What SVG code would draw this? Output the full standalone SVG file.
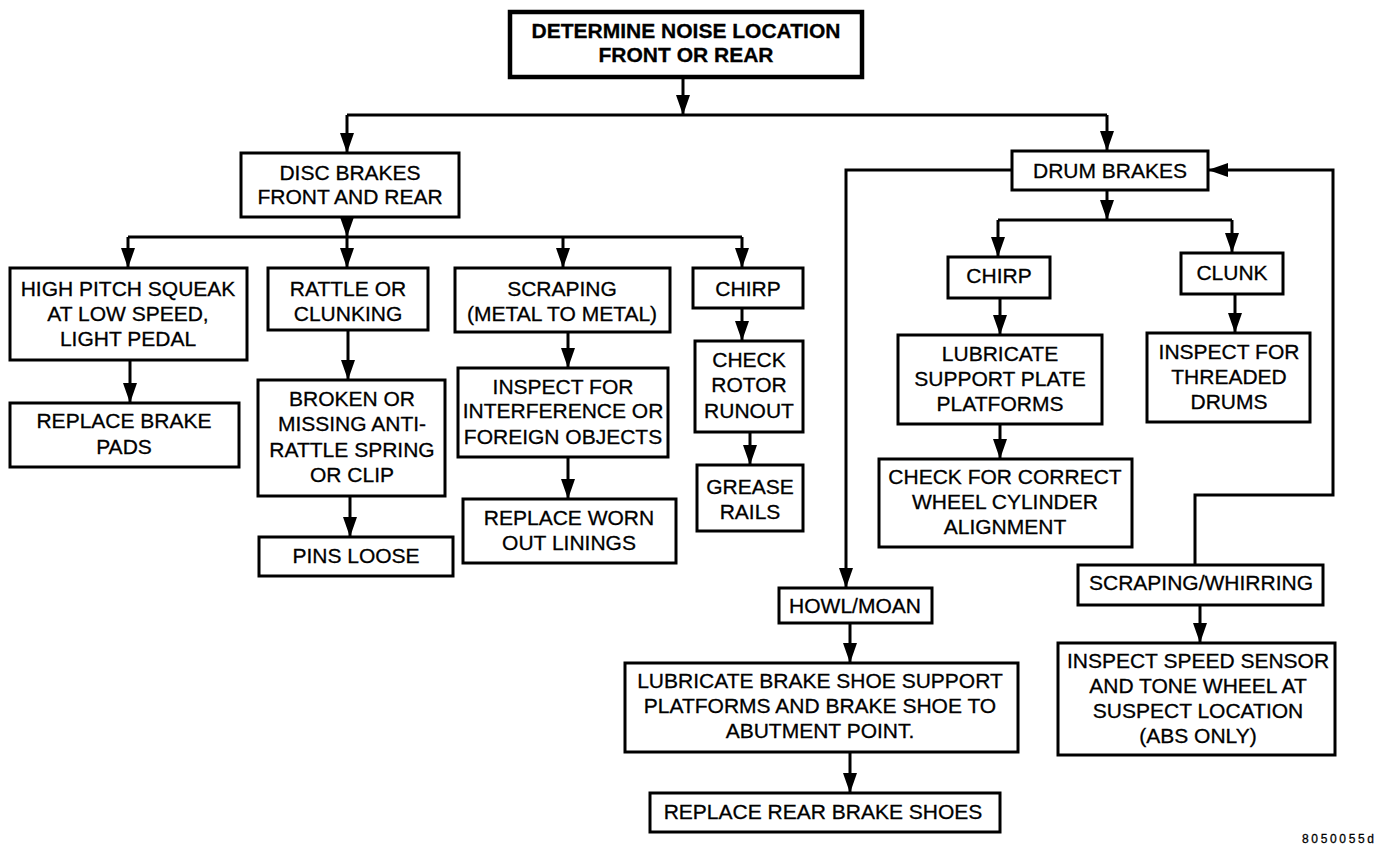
<svg xmlns="http://www.w3.org/2000/svg" width="1392" height="850" viewBox="0 0 1392 850">
<defs>
<marker id="ah" viewBox="0 0 20 14" refX="20" refY="7" markerWidth="20" markerHeight="14" markerUnits="userSpaceOnUse" orient="auto">
<path d="M0,0 L20,7 L0,14 Z" fill="#000"/>
</marker>
</defs>
<style>
.b{fill:#fff;stroke:#000;stroke-width:3}
.bt{fill:#fff;stroke:#000;stroke-width:4.5}
text{font-family:"Liberation Sans",Arial,sans-serif;font-size:21px;fill:#000;stroke:#000;stroke-width:0.3;text-anchor:middle}
.bold{font-weight:bold;font-size:21px}
.c{fill:none;stroke:#000;stroke-width:3}
.a{fill:none;stroke:#000;stroke-width:3;marker-end:url(#ah)}
.id{font-size:12px;text-anchor:start}
</style>
<rect width="1392" height="850" fill="#fff"/>
<g id="connectors">
<path class="a" d="M683,77 V115"/>
<path class="c" d="M347,115 H1107"/>
<path class="a" d="M347,115 V153"/>
<path class="a" d="M1107,115 V151"/>
<path class="a" d="M347,217 V237"/>
<path class="c" d="M128,237 H742"/>
<path class="a" d="M128,237 V268"/>
<path class="a" d="M347,237 V268"/>
<path class="a" d="M563,237 V268"/>
<path class="a" d="M742,237 V268"/>
<path class="a" d="M130,360 V403"/>
<path class="a" d="M348,330 V380"/>
<path class="a" d="M350,496 V537"/>
<path class="a" d="M568,332 V368"/>
<path class="a" d="M568,457 V499"/>
<path class="a" d="M742,308 V341"/>
<path class="a" d="M750,432 V465"/>
<path class="a" d="M1012,170 H846 V588"/>
<path class="a" d="M1107,190 V220"/>
<path class="c" d="M998,220 H1232"/>
<path class="a" d="M998,220 V257"/>
<path class="a" d="M1232,220 V253"/>
<path class="a" d="M1000,298 V335"/>
<path class="a" d="M1000,424 V459"/>
<path class="a" d="M1235,294 V333"/>
<path class="a" d="M1195,565 V495 H1333 V170 H1208"/>
<path class="a" d="M1200,605 V643"/>
<path class="a" d="M850,623 V663"/>
<path class="a" d="M850,752 V793"/>
</g>
<g id="n-top"><rect class="bt" x="510" y="12" width="352" height="65"/><text class="bold" x="686" y="38">DETERMINE NOISE LOCATION</text><text class="bold" x="686" y="62">FRONT OR REAR</text></g>
<g id="n-disc"><rect class="b" x="241" y="153" width="218" height="64"/><text x="350" y="180">DISC BRAKES</text><text x="350" y="204">FRONT AND REAR</text></g>
<g id="n-high"><rect class="b" x="10" y="268" width="237" height="92"/><text x="128" y="296">HIGH PITCH SQUEAK</text><text x="128" y="321">AT LOW SPEED,</text><text x="128" y="346">LIGHT PEDAL</text></g>
<g id="n-rattle"><rect class="b" x="268" y="268" width="160" height="62"/><text x="348" y="296">RATTLE OR</text><text x="348" y="321">CLUNKING</text></g>
<g id="n-scraping"><rect class="b" x="455" y="268" width="215" height="64"/><text x="562" y="296">SCRAPING</text><text x="562" y="321">(METAL TO METAL)</text></g>
<g id="n-chirp1"><rect class="b" x="693" y="268" width="110" height="40"/><text x="748" y="296">CHIRP</text></g>
<g id="n-pads"><rect class="b" x="10" y="403" width="229" height="64"/><text x="124" y="428">REPLACE BRAKE</text><text x="124" y="454">PADS</text></g>
<g id="n-broken"><rect class="b" x="258" y="380" width="187" height="116"/><text x="352" y="406">BROKEN OR</text><text x="352" y="431">MISSING ANTI-</text><text x="352" y="457">RATTLE SPRING</text><text x="352" y="482">OR CLIP</text></g>
<g id="n-pins"><rect class="b" x="259" y="537" width="194" height="39"/><text x="356" y="563">PINS LOOSE</text></g>
<g id="n-inspect"><rect class="b" x="458" y="368" width="210" height="89"/><text x="563" y="394">INSPECT FOR</text><text x="563" y="418">INTERFERENCE OR</text><text x="563" y="444">FOREIGN OBJECTS</text></g>
<g id="n-worn"><rect class="b" x="463" y="499" width="213" height="64"/><text x="569" y="525">REPLACE WORN</text><text x="569" y="550">OUT LININGS</text></g>
<g id="n-rotor"><rect class="b" x="695" y="341" width="108" height="91"/><text x="749" y="367">CHECK</text><text x="749" y="392">ROTOR</text><text x="749" y="418">RUNOUT</text></g>
<g id="n-grease"><rect class="b" x="697" y="465" width="106" height="66"/><text x="750" y="494">GREASE</text><text x="750" y="519">RAILS</text></g>
<g id="n-drum"><rect class="b" x="1012" y="151" width="196" height="39"/><text x="1110" y="178">DRUM BRAKES</text></g>
<g id="n-chirp2"><rect class="b" x="948" y="257" width="102" height="41"/><text x="999" y="283">CHIRP</text></g>
<g id="n-clunk"><rect class="b" x="1181" y="253" width="102" height="41"/><text x="1232" y="280">CLUNK</text></g>
<g id="n-lube"><rect class="b" x="898" y="335" width="204" height="89"/><text x="1000" y="361">LUBRICATE</text><text x="1000" y="386">SUPPORT PLATE</text><text x="1000" y="411">PLATFORMS</text></g>
<g id="n-wheel"><rect class="b" x="879" y="459" width="253" height="88"/><text x="1005" y="484">CHECK FOR CORRECT</text><text x="1005" y="509">WHEEL CYLINDER</text><text x="1005" y="534">ALIGNMENT</text></g>
<g id="n-threaded"><rect class="b" x="1147" y="333" width="163" height="89"/><text x="1229" y="359">INSPECT FOR</text><text x="1229" y="384">THREADED</text><text x="1229" y="409">DRUMS</text></g>
<g id="n-whirring"><rect class="b" x="1078" y="565" width="245" height="40"/><text x="1201" y="590">SCRAPING/WHIRRING</text></g>
<g id="n-sensor"><rect class="b" x="1058" y="643" width="277" height="112"/><text x="1198" y="668">INSPECT SPEED SENSOR</text><text x="1198" y="693">AND TONE WHEEL AT</text><text x="1198" y="718">SUSPECT LOCATION</text><text x="1198" y="743">(ABS ONLY)</text></g>
<g id="n-howl"><rect class="b" x="779" y="588" width="153" height="35"/><text x="855" y="613">HOWL/MOAN</text></g>
<g id="n-shoe"><rect class="b" x="625" y="663" width="393" height="89"/><text x="820" y="688">LUBRICATE BRAKE SHOE SUPPORT</text><text x="820" y="713">PLATFORMS AND BRAKE SHOE TO</text><text x="820" y="738">ABUTMENT POINT.</text></g>
<g id="n-rear"><rect class="b" x="650" y="793" width="350" height="39"/><text x="823" y="819">REPLACE REAR BRAKE SHOES</text></g>
<text class="id" x="1302" y="843" textLength="72">8050055d</text>
</svg>
